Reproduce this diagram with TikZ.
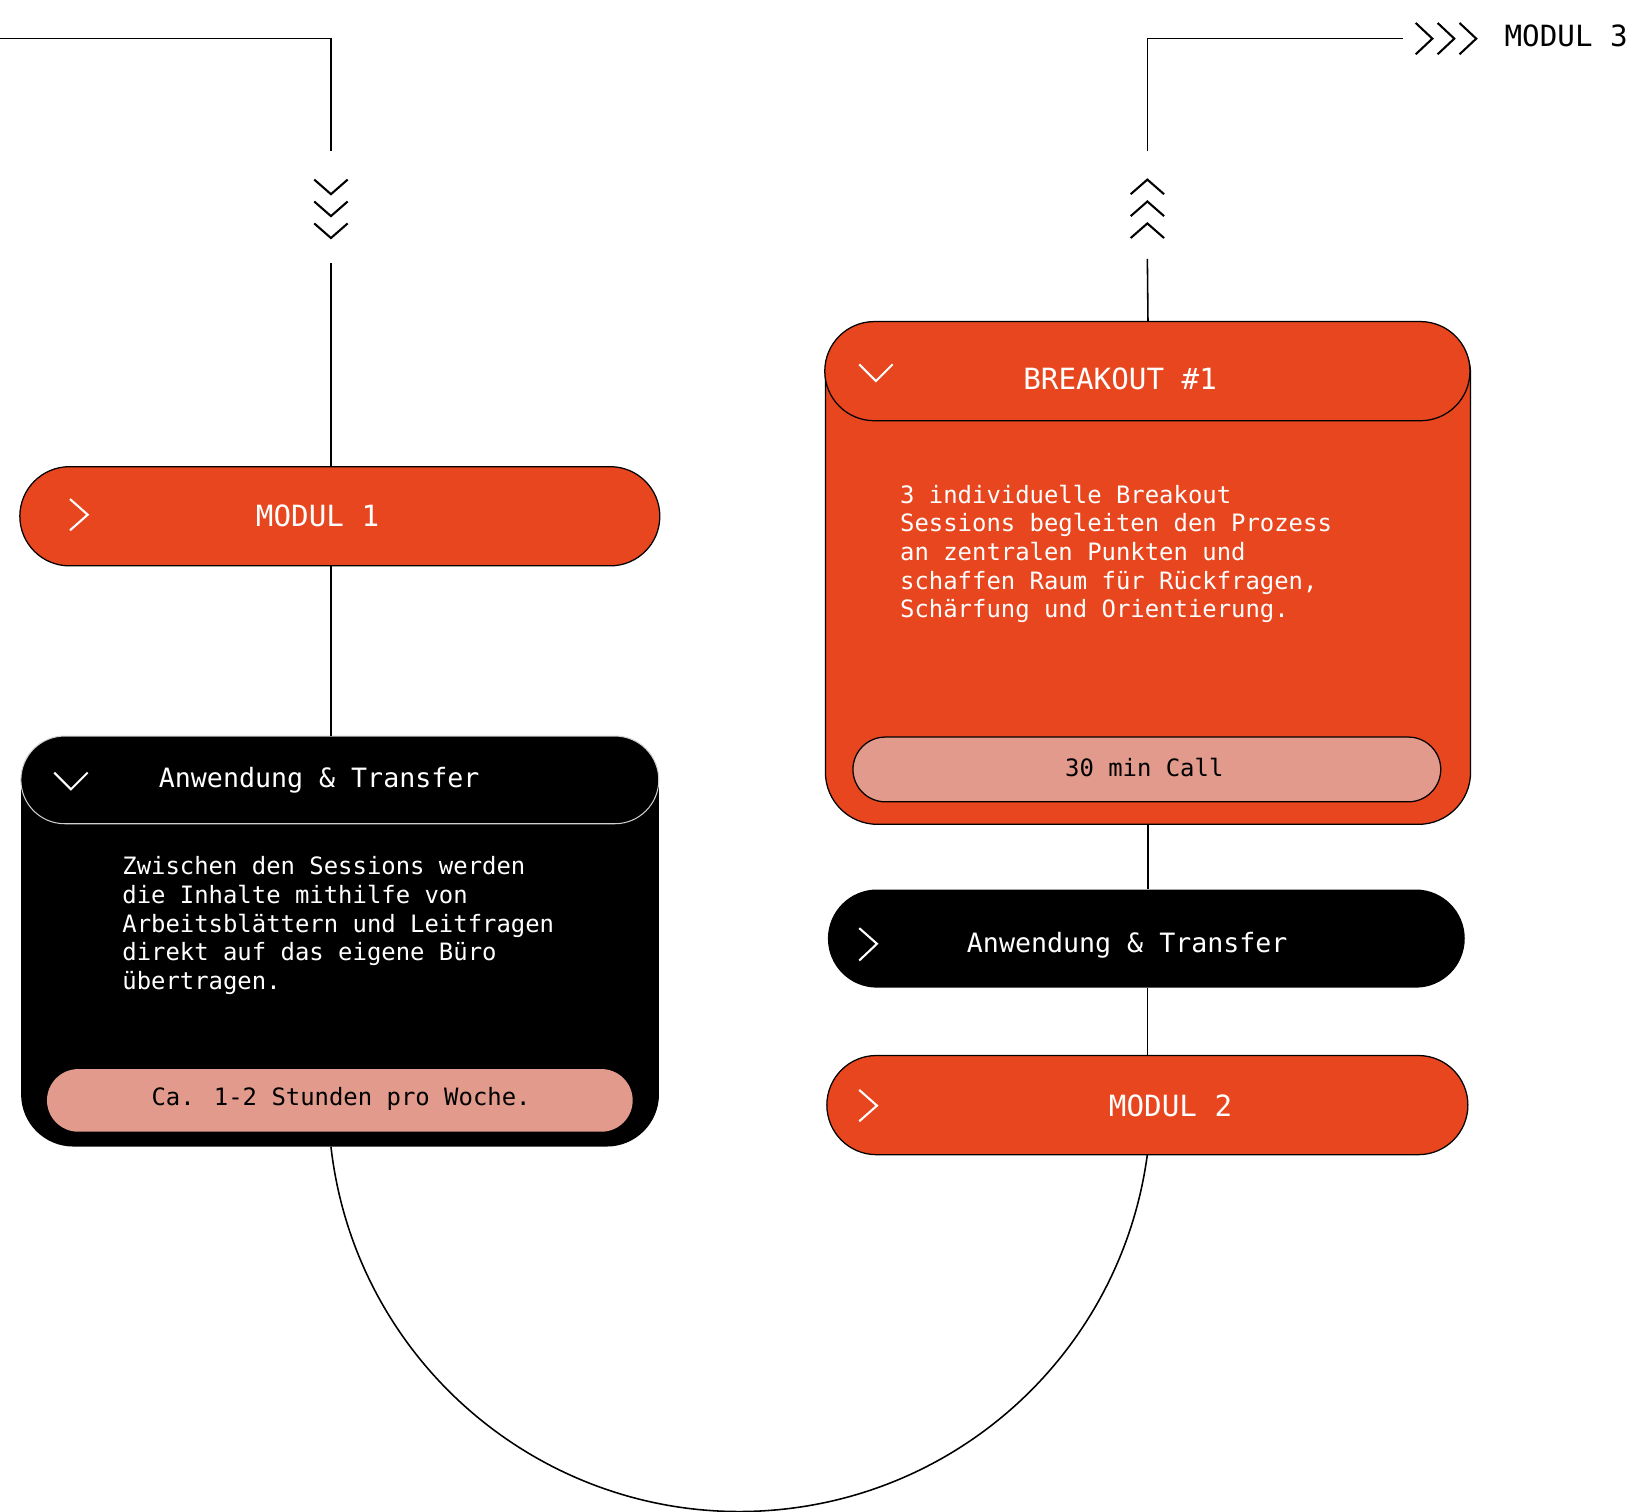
\documentclass[tikz,border=0pt]{standalone}
\usepackage{fontspec}
\newfontfamily\monofont{DejaVu Sans Mono}
\usetikzlibrary{shapes.misc, calc}
\definecolor{modulorange}{HTML}{E8461E}
\definecolor{salmon}{HTML}{E19A8B}
\definecolor{headgray}{HTML}{CFCFCF}
\newcommand\txtbody{\monofont\fontsize{22.9}{27.4}\selectfont}
\newcommand\txthead{\monofont\fontsize{25.5}{30}\selectfont}
\newcommand\txtmod{\monofont\fontsize{28}{32}\selectfont}
\tikzset{
  pill/.style={rounded rectangle, inner sep=0pt},
  card/.style={rectangle, rounded corners=50pt, inner sep=0pt, anchor=north west},
  link/.style={line width=1.5pt},
  chev/.style={line width=2pt, line join=miter},
  wchev/.style={chev, draw=white},
  txt/.style={inner sep=0pt, anchor=base west}
}

\begin{document}
\begin{tikzpicture}[x=1pt, y=-1pt]
    \useasboundingbox (0,0) rectangle (1568,1448);

    % left column
    \node[pill, fill=modulorange, draw=black, line width=1.2pt,
          minimum width=613pt, minimum height=95pt] (m1) at (325.5,494.5) {};
    \node[card, fill=black, minimum width=611pt, minimum height=393pt] (anw1) at (20,705) {};
    \node[pill, fill=black, draw=headgray, line width=1pt,
          minimum width=611pt, minimum height=84pt] (anw1h) at (325.5,747) {};
    \node[pill, fill=salmon, minimum width=561pt, minimum height=60pt] (anw1f) at (325.5,1054) {};

    % right column
    \node[card, fill=modulorange, draw=black, line width=1.2pt,
          minimum width=618pt, minimum height=481pt] (bo) at (790,308) {};
    \node[pill, fill=modulorange, draw=black, line width=1.2pt,
          minimum width=618pt, minimum height=95pt] (boh) at (1099,355.5) {};
    \node[pill, fill=salmon, draw=black, line width=1.2pt,
          minimum width=563pt, minimum height=62pt] (bof) at (1098.5,737) {};
    \node[pill, fill=black, minimum width=610pt, minimum height=94pt] (anw2) at (1098,899) {};
    \node[pill, fill=modulorange, draw=black, line width=1.2pt,
          minimum width=614pt, minimum height=95pt] (m2) at (1099,1058.5) {};

    % texts
    \node[txt, text=white, font=\txtmod] (m1t) at (245,504) {MODUL 1};
    \node[txt, text=white, font=\txthead] (anw1t) at (152,754) {Anwendung \& Transfer};
    \node[txt, text=white, font=\txtbody, align=left] (anw1b) at (117,947.6)
        {Zwischen den Sessions werden\\die Inhalte mithilfe von\\Arbeitsblättern und Leitfragen\\direkt auf das eigene Büro\\übertragen.};
    \node[txt, font=\txtbody] (anw1ft) at (145,1059) {Ca. 1-2 Stunden pro Woche.};
    \node[txt, text=white, font=\txtmod] (bot) at (980,373) {BREAKOUT \#1};
    \node[txt, text=white, font=\txtbody, align=left] (bob) at (862,591.6)
        {3 individuelle Breakout\\Sessions begleiten den Prozess\\an zentralen Punkten und\\schaffen Raum für Rückfragen,\\Schärfung und Orientierung.};
    \node[txt, font=\txtbody] (boft) at (1020,744) {30 min Call};
    \node[txt, text=white, font=\txthead] (anw2t) at (926,912) {Anwendung \& Transfer};
    \node[txt, text=white, font=\txtmod] (m2t) at (1062,1069) {MODUL 2};
    \node[txt, font=\txtmod] (m3t) at (1441,45) {MODUL 3};

    % connectors
    \coordinate (inL) at (0,37);
    \coordinate (chevLtop) at (317,145);
    \coordinate (chevLbot) at (317,252);
    \coordinate (chevRtop) at (1099,145);
    \coordinate (chevRbot) at (1099,248);
    \coordinate (outR) at (1344,37);
    \draw[link] (inL) -| (chevLtop);
    \draw[link] (chevLbot) -- (chevLbot |- m1.north);
    \draw[link] (chevLbot |- m1.south) -- (chevLbot |- anw1.north);
    \draw[link] (chevLbot |- anw1.south)
        arc[start angle=186.5, end angle=352.4, radius=394pt] -- (m2.south);
    \draw[link] (m2.north |- anw2.south) -- (m2.north);
    \draw[link] (bo.south) -- (bo.south |- anw2.north);
    \draw[link] (bo.north) -- (chevRbot);
    \draw[link] (chevRtop) |- (outR);

    % chevrons
    \foreach \y in {172,193,214}
        \draw[chev] (301,\y) -- (317,\y+14) -- (333,\y);
    \foreach \y in {172,193,214}
        \draw[chev] (1083,\y+14) -- (1099,\y) -- (1115,\y+14);
    \foreach \x in {1356,1377,1398}
        \draw[chev] (\x,22) -- (\x+16,37) -- (\x,52);
    \draw[wchev] (67,478) -- (84,493) -- (67,508);
    \draw[wchev] (52,740) -- (68,756) -- (84,740);
    \draw[wchev] (823,349) -- (839,365) -- (855,349);
    \draw[wchev] (823,889) -- (840,904) -- (823,920);
    \draw[wchev] (823,1044) -- (840,1059) -- (823,1074);
\end{tikzpicture}
\end{document}
